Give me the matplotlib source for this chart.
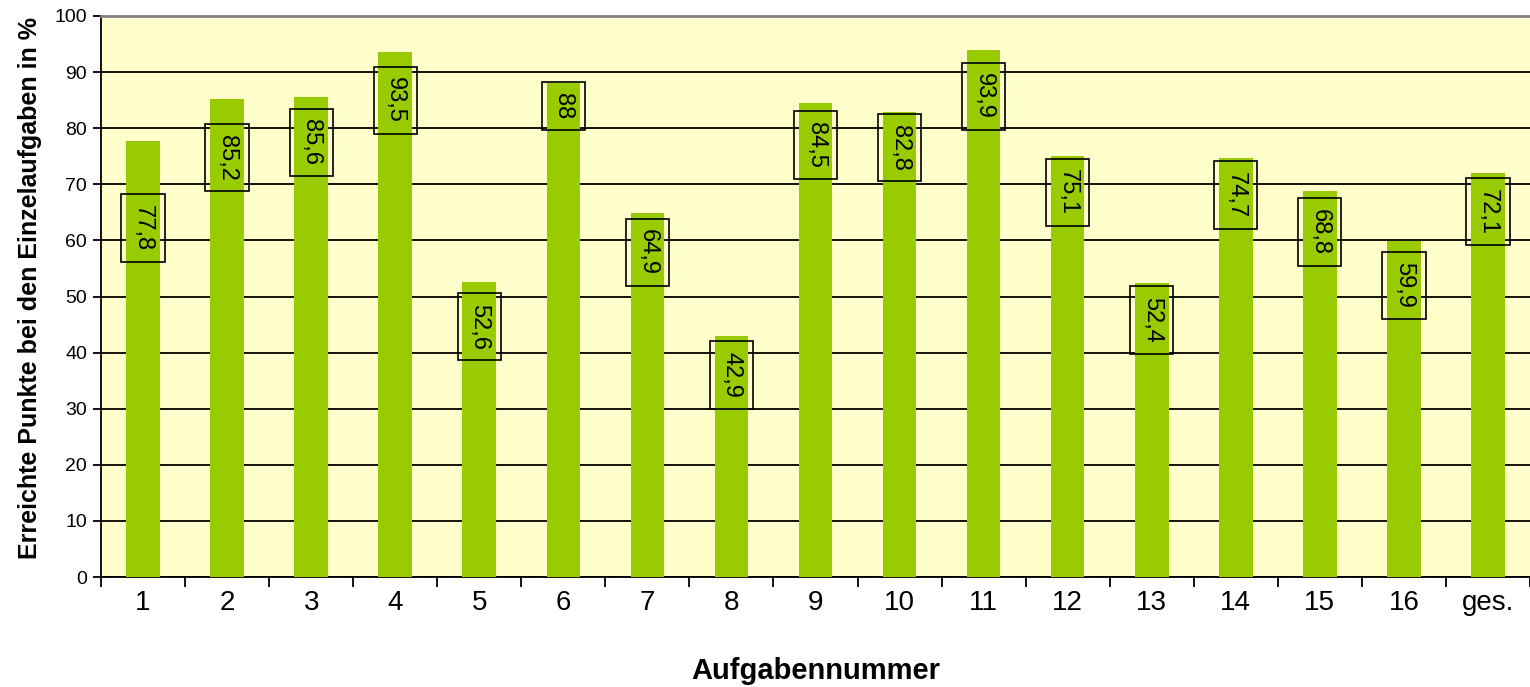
import matplotlib
matplotlib.use("Agg")
import matplotlib.pyplot as plt
import numpy as np

categories = ["1", "2", "3", "4", "5", "6", "7", "8", "9", "10", "11", "12", "13", "14", "15", "16", "ges."]
values = [77.8, 85.2, 85.6, 93.5, 52.6, 88, 64.9, 42.9, 84.5, 82.8, 93.9, 75.1, 52.4, 74.7, 68.8, 59.9, 72.1]
value_labels = ["77,8", "85,2", "85,6", "93,5", "52,6", "88", "64,9", "42,9", "84,5", "82,8", "93,9", "75,1", "52,4", "74,7", "68,8", "59,9", "72,1"]
# label centre heights (layout, as placed in the original)
label_y = [62.2, 74.7, 77.5, 85.0, 44.6, 84.0, 57.9, 36.0, 77.0, 76.5, 85.7, 68.6, 45.8, 68.1, 61.5, 52.0, 65.1]

plt.rcParams['font.family'] = ['Liberation Sans', 'DejaVu Sans']

fig = plt.figure(figsize=(15.3, 6.87), dpi=100)
ax = fig.add_axes([101/1530, 1-577/687, 1-101/1530, (577-16)/687])
ax.set_facecolor('#FFFFCC')

x = np.arange(len(categories))
ax.bar(x, values, width=0.4, color='#99CC00', zorder=3)

ax.set_xlim(-0.5, len(categories)-0.5)
ax.set_ylim(0, 100)
ax.set_yticks(np.arange(0, 101, 10))
ax.yaxis.grid(True, color='black', linewidth=1.3, zorder=1)
ax.set_axisbelow(True)

for xi, lab, ly in zip(x, value_labels, label_y):
    ax.text(xi, ly, lab, rotation=-90, ha='center', va='center', fontsize=17,
            zorder=5, rotation_mode='anchor',
            bbox=dict(boxstyle='square,pad=0.45', facecolor='none', edgecolor='black', linewidth=1.2))

ax.set_xticks(x)
ax.set_xticklabels(categories, fontsize=20)
ax.set_xticks(np.arange(-0.5, len(categories), 1.0), minor=True)
ax.tick_params(axis='x', which='major', length=0, pad=9)
ax.tick_params(axis='x', which='minor', length=7, width=1.3, direction='out')
ax.tick_params(axis='y', which='major', length=6, width=1.3, direction='out', labelsize=14, pad=4)

for s in ['left', 'bottom']:
    ax.spines[s].set_color('black')
    ax.spines[s].set_linewidth(1.3)
ax.spines['top'].set_color('#808080')
ax.spines['top'].set_linewidth(2)
ax.spines['right'].set_visible(False)

ax.set_xlabel('Aufgabennummer', fontsize=21, fontweight='bold', labelpad=30)
ax.set_ylabel('Erreichte Punkte bei den Einzelaufgaben in %', fontsize=18, fontweight='bold')
ax.yaxis.set_label_coords(-0.0495, 0.515)
ax.yaxis.label.set_va('center')

fig.savefig('out.png', dpi=100)
